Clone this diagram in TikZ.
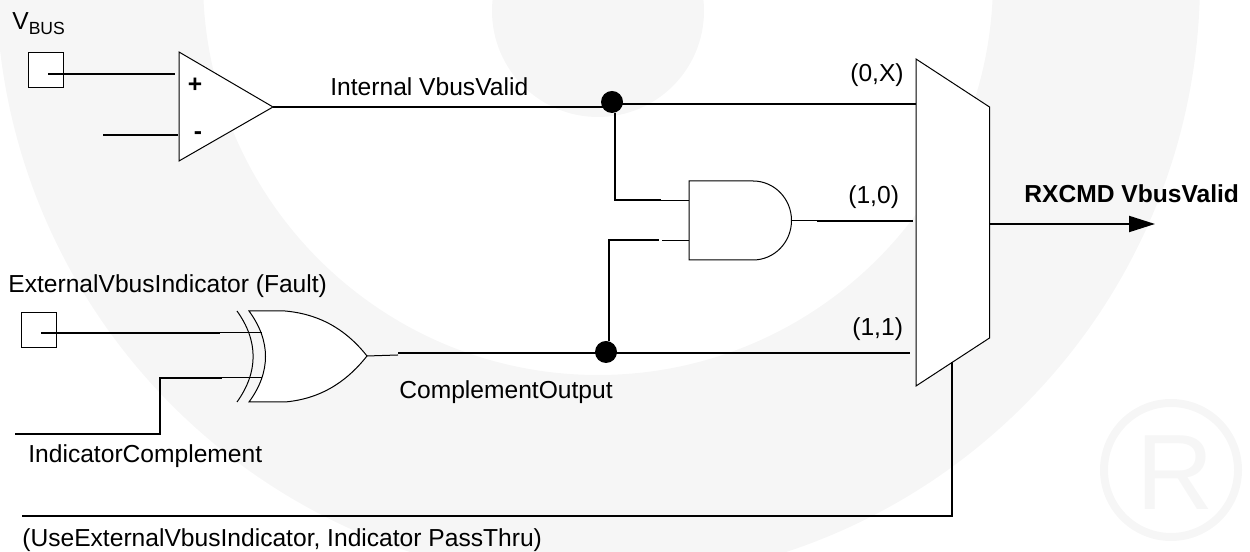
\documentclass[tikz,border=0pt]{standalone}
\usepackage{xcolor}
\usepackage{fontspec}
\setmainfont{Liberation Sans}
\usetikzlibrary{calc}
\usetikzlibrary{arrows.meta}
\definecolor{wmark}{HTML}{F6F6F6}
\tikzset{
    wire/.style={line width=0.04cm},
    thinwire/.style={line width=0.02cm},
    outline/.style={line width=0.02cm, fill=white},
    pad/.style={draw, line width=0.02cm, fill=white, minimum size=0.7cm, inner sep=0pt},
    dot/.style={circle, fill=black, minimum size=0.44cm, inner sep=0pt},
    lbl/.style={anchor=base west, inner sep=0pt}
}

\begin{document}
\begin{tikzpicture}
                    \useasboundingbox (0,0) rectangle (25.000000,11.040000);
                    {\fontsize{14}{16}\selectfont

                    % Drawing the faint watermark
                    \begin{scope}
                    \clip (0,0) rectangle (25.000000,11.040000);
                    \fill [wmark, even odd rule] (11.960000,11.440000) circle (12.040000) (11.960000,11.440000) circle (7.900000);
                    \fill [wmark] (11.960000,10.820000) circle (2.120000);
                    \draw [wmark, line width=0.16cm] (23.420000,1.640000) circle (1.340000);
                    \end{scope}
                    \node [anchor=base west, inner sep=0pt, text=wmark, font=\fontsize{61}{61}\selectfont] (wmarkr) at (22.720000,0.840000) {R};

                    % Marking the coordinates of the comparator
                    \coordinate (cmptop) at (3.580000,10.000000);
                    \coordinate (cmpbot) at (3.580000,7.820000);
                    \coordinate (cmpout) at (5.460000,8.900000);
                    \coordinate (cmpplus) at (3.500000,9.560000);
                    \coordinate (cmpminus) at (3.560000,8.340000);
                    \coordinate (minusfree) at (2.060000,8.340000);
                    \coordinate (vbusin) at (0.960000,9.560000);

                    % Drawing the comparator
                    \node [pad] (vbuspad) at (0.910000,9.630000) {};
                    \draw [outline] (cmptop) -- (cmpout) -- (cmpbot) -- cycle;
                    \draw [wire] (vbusin) -- (cmpplus);%
                    \draw [wire] (minusfree) -- (cmpminus);%
                    \node [font=\fontsize{14}{16}\selectfont\bfseries, inner sep=0pt] (plussign) at (3.900000,9.340000) {+};
                    \node [font=\fontsize{14}{16}\selectfont\bfseries, inner sep=0pt] (minussign) at (3.960000,8.320000) {-};

                    % Marking the coordinates of the multiplexer
                    \coordinate (muxa) at (18.320000,9.860000);
                    \coordinate (muxb) at (19.790000,8.900000);
                    \coordinate (muxc) at (19.790000,4.280000);
                    \coordinate (muxd) at (18.320000,3.320000);
                    \coordinate (muxin) at (18.320000,8.950000);
                    \coordinate (muxand) at (18.260000,6.620000);
                    \coordinate (muxxor) at (18.200000,3.970000);
                    \coordinate (muxout) at (19.790000,6.560000);
                    \coordinate (muxsel) at (19.040000,3.800000);
                    \coordinate (outtip) at (23.100000,6.560000);
                    \coordinate (selcorner) at (19.040000,0.720000);
                    \coordinate (selfree) at (0.440000,0.720000);

                    % Drawing the multiplexer
                    \draw [outline] (muxa) -- (muxb) -- (muxc) -- (muxd) -- cycle;
                    \draw [wire, -{Triangle[length=0.52cm,width=0.32cm]}] (muxout) -- (outtip);%
                    \draw [wire] (muxsel) -- (selcorner) -- (selfree);%

                    % Marking the junctions
                    \node [dot] (dota) at (12.240000,9.000000) {};
                    \node [dot] (dotb) at (12.120000,4.000000) {};

                    % Drawing the AND gate
                    \coordinate (andtop) at (13.780000,7.420000);
                    \coordinate (andbot) at (13.780000,5.840000);
                    \coordinate (andout) at (15.830000,6.630000);
                    \coordinate (andina) at (13.780000,7.030000);
                    \coordinate (andinb) at (13.780000,6.230000);
                    \coordinate (stuba) at (13.220000,7.030000);
                    \coordinate (stubb) at (13.180000,6.240000);
                    \coordinate (stubc) at (13.240000,6.230000);
                    \coordinate (stubout) at (16.340000,6.620000);
                    \coordinate (bendb) at (12.180000,6.240000);
                    \coordinate (benda) at (12.290000,7.030000);
                    \draw [outline] (andtop) -- (15.060000,7.420000) arc (90:-90:0.770000 and 0.790000) -- (andbot) -- cycle;
                    \draw [wire] (dota.south -| benda) -- (benda) -- (stuba);%
                    \draw [thinwire] (stuba) -- (andina);%
                    \draw [wire] (dotb.north -| bendb) -- (bendb) -- (stubb);%
                    \draw [thinwire] (stubc) -- (andinb);%
                    \draw [thinwire] (andout) -- (stubout |- andout);%
                    \draw [wire] (stubout) -- (muxand);%

                    % Drawing the XOR gate
                    \coordinate (xortip) at (7.340000,3.920000);
                    \coordinate (xortop) at (4.980000,4.820000);
                    \coordinate (xorbot) at (4.980000,3.000000);
                    \coordinate (xorstub) at (7.960000,3.940000);
                    \coordinate (xorwire) at (7.960000,3.980000);
                    \coordinate (extin) at (0.820000,4.380000);
                    \coordinate (extstub) at (4.400000,4.380000);
                    \coordinate (extend) at (5.240000,4.380000);
                    \coordinate (compfree) at (0.300000,2.360000);
                    \coordinate (compa) at (3.200000,2.360000);
                    \coordinate (compb) at (3.200000,3.480000);
                    \coordinate (compstub) at (4.440000,3.480000);
                    \coordinate (compend) at (5.240000,3.480000);
                    \draw [outline] (xortop) -- (5.700000,4.820000) .. controls (6.500000,4.750000) and (7.000000,4.350000) .. (xortip) .. controls (7.000000,3.490000) and (6.500000,3.070000) .. (5.700000,3.000000) -- (xorbot) .. controls (5.420000,3.600000) and (5.420000,4.220000) .. (xortop) -- cycle;
                    \draw [line width=0.02cm] (4.740000,4.820000) .. controls (5.170000,4.220000) and (5.170000,3.600000) .. (4.740000,3.000000);%
                    \node [pad] (extpad) at (0.770000,4.430000) {};
                    \draw [wire] (extin) -- (extstub);%
                    \draw [thinwire] (extstub) -- (extend);%
                    \draw [wire] (compfree) -- (compa) -- (compb) -- (compstub);%
                    \draw [thinwire] (compstub) -- (compend);%
                    \draw [thinwire] (xortip) -- (xorstub);%

                    % Drawing the main wires
                    \draw [wire] (cmpout) -- (cmpout -| dota);%
                    \draw [wire] (muxin -| dota) -- (muxin);%
                    \draw [wire] (xorwire) -- (xorwire -| dotb);%
                    \draw [wire] (muxxor -| dotb) -- (muxxor);%

                    % Marking the labels
                    \node [lbl] (vbuslabel) at (0.240000,10.440000) {V\raisebox{-0.35ex}{\fontsize{10}{11}\selectfont BUS}};
                    \node [lbl] (internallabel) at (6.600000,9.120000) {Internal VbusValid};
                    \node [lbl] (extlabel) at (0.160000,5.180000) {ExternalVbusIndicator (Fault)};
                    \node [lbl] (complabel) at (0.560000,1.780000) {IndicatorComplement};
                    \node [lbl] (outlabel) at (7.980000,3.060000) {ComplementOutput};
                    \node [lbl] (sellabel) at (0.440000,0.100000) {(UseExternalVbusIndicator, Indicator PassThru)};
                    \node [lbl] (inalabel) at (17.000000,9.400000) {(0,X)};
                    \node [lbl] (inblabel) at (16.960000,6.960000) {(1,0)};
                    \node [lbl] (inclabel) at (17.040000,4.320000) {(1,1)};
                    \node [lbl, font=\fontsize{14}{16}\selectfont\bfseries] (rxcmdlabel) at (20.480000,6.980000) {RXCMD VbusValid};
                    }
                \end{tikzpicture}
\end{document}
